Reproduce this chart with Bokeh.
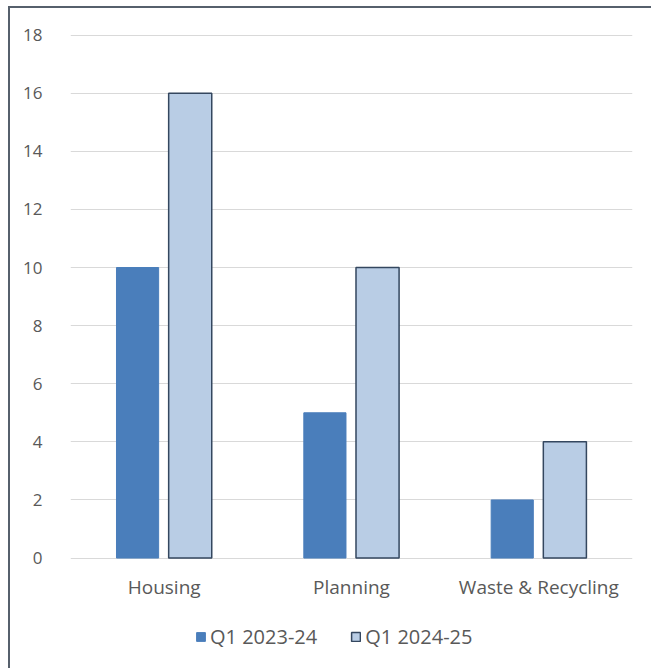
from bokeh.plotting import figure
from bokeh.models import ColumnDataSource, FactorRange, Legend, LegendItem, FixedTicker
from bokeh.core.properties import value
from bokeh.transform import dodge
from bokeh.embed import file_html
from bokeh.resources import INLINE

# Complaints by service area, first quarter of each year
categories = ["Housing", "Planning", "Waste & Recycling"]
q1_2023_24 = [10, 5, 2]
q1_2024_25 = [16, 10, 4]
series_labels = ["Q1 2023-24", "Q1 2024-25"]
y_ticks = [0, 2, 4, 6, 8, 10, 12, 14, 16, 18]

source = ColumnDataSource(dict(cat=categories, a=q1_2023_24, b=q1_2024_25,
                               label_y=[-1.0] * len(categories)))

FONT = "Open Sans"
TEXT = "#595959"

# the frame reaches down to the bottom edge so that the category names
# and the legend sit inside it, below the zero line
p = figure(
    x_range=FactorRange(*categories, range_padding=0),
    y_range=(-3.87, 18.02),
    width=643, height=662,
    output_backend="svg", toolbar_location=None,
    min_border_left=60, min_border_right=21,
    min_border_top=26, min_border_bottom=0,
    background_fill_color="white", border_fill_color="white",
    outline_line_color=None,
)
# chart area border, visible on the left and top edges
p.margin = (6, 0, 0, 8)
p.styles = {"border-left": "2px solid #56606c", "border-top": "2px solid #56606c"}

r1 = p.vbar(x=dodge("cat", -0.142, range=p.x_range), top="a", width=0.225,
            source=source, fill_color="#4a7ebb", line_color="#4a7ebb")
r2 = p.vbar(x=dodge("cat", 0.139, range=p.x_range), top="b", width=0.23,
            source=source, fill_color="#b9cde5", line_color="#34475f", line_width=1.5)

# category names under the zero line
p.text(x="cat", y="label_y", text="cat", source=source,
       text_font=value(FONT), text_font_size="19px", text_color=TEXT,
       text_align="center", text_baseline="middle")

# axes
p.xaxis.visible = False
p.yaxis.ticker = FixedTicker(ticks=y_ticks)
p.yaxis.axis_line_color = None
p.yaxis.major_tick_line_color = None
p.yaxis.minor_tick_line_color = None
p.yaxis.major_label_standoff = 22
p.yaxis.major_label_text_font = FONT
p.yaxis.major_label_text_font_size = "17px"
p.yaxis.major_label_text_color = TEXT

p.xgrid.grid_line_color = None
p.ygrid.ticker = FixedTicker(ticks=y_ticks)
p.ygrid.grid_line_color = "#d9d9d9"
p.ygrid.grid_line_width = 1.2

legend = Legend(
    items=[LegendItem(label=series_labels[0], renderers=[r1]),
           LegendItem(label=series_labels[1], renderers=[r2])],
    orientation="horizontal",
    location=(125, 20),
    glyph_width=11, glyph_height=11,
    label_text_font=FONT, label_text_font_size="20px", label_text_color=TEXT,
    label_standoff=4, spacing=33, padding=0, margin=0,
    border_line_color=None, background_fill_alpha=0,
)
p.add_layout(legend, "center")

open("out.html", "w").write(file_html(p, INLINE))
